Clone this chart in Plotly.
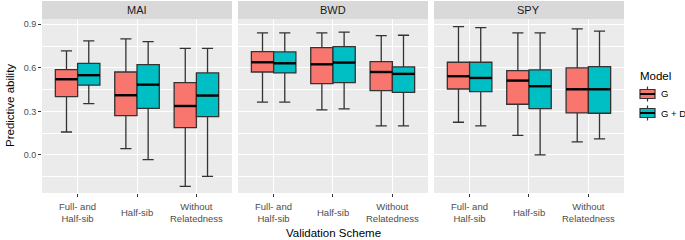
import plotly.graph_objects as go

traits = ["MAI", "BWD", "SPY"]
schemes = ["Full- and<br>Half-sib", "Half-sib", "Without<br>Relatedness"]
models = ["G", "G + D"]
colors = {"G": "#F8766D", "G + D": "#00BFC4"}

# per trait, per model: values for the three schemes
upper = {
    "MAI": {"G": [0.716, 0.799, 0.734], "G + D": [0.785, 0.780, 0.734]},
    "BWD": {"G": [0.840, 0.840, 0.822], "G + D": [0.840, 0.845, 0.824]},
    "SPY": {"G": [0.884, 0.840, 0.868], "G + D": [0.877, 0.840, 0.852]},
}
q3 = {
    "MAI": {"G": [0.588, 0.571, 0.498], "G + D": [0.631, 0.622, 0.565]},
    "BWD": {"G": [0.711, 0.739, 0.643], "G + D": [0.709, 0.746, 0.606]},
    "SPY": {"G": [0.638, 0.581, 0.599], "G + D": [0.638, 0.585, 0.608]},
}
median = {
    "MAI": {"G": [0.521, 0.411, 0.337], "G + D": [0.549, 0.484, 0.409]},
    "BWD": {"G": [0.638, 0.624, 0.571], "G + D": [0.631, 0.636, 0.558]},
    "SPY": {"G": [0.542, 0.512, 0.452], "G + D": [0.530, 0.473, 0.452]},
}
q1 = {
    "MAI": {"G": [0.402, 0.271, 0.188], "G + D": [0.480, 0.321, 0.264]},
    "BWD": {"G": [0.571, 0.491, 0.443], "G + D": [0.565, 0.498, 0.431]},
    "SPY": {"G": [0.454, 0.349, 0.289], "G + D": [0.436, 0.319, 0.287]},
}
lower = {
    "MAI": {"G": [0.158, 0.044, -0.216], "G + D": [0.353, -0.032, -0.147]},
    "BWD": {"G": [0.363, 0.310, 0.200], "G + D": [0.363, 0.317, 0.200]},
    "SPY": {"G": [0.225, 0.135, 0.090], "G + D": [0.200, 0.000, 0.110]},
}

BW = 0.375
offsets = {"G": -0.1875, "G + D": 0.1875}
FONT = "Liberation Sans, Arial, sans-serif"

W, H = 685, 240
ML, MR, MT, MB = 42, 61, 0, 47
PW, PH = W - ML - MR, H - MT - MB


def px(x):
    return (x - ML) / PW


def py(y):
    return (H - MB - y) / PH


fig = go.Figure()
domains = [[0, 0.3265], [0.3368, 0.6632], [0.6735, 1.0]]
ytop = 0.9016
stop = py(1)

for i, t in enumerate(traits):
    xa = "x" if i == 0 else f"x{i+1}"
    ya = "y" if i == 0 else f"y{i+1}"
    for m in models:
        pos = [k + 1 + offsets[m] for k in range(3)]
        fig.add_trace(go.Box(
            x=pos, q1=q1[t][m], median=median[t][m], q3=q3[t][m],
            lowerfence=lower[t][m], upperfence=upper[t][m],
            width=BW, whiskerwidth=0.5, boxpoints=False,
            fillcolor=colors[m], line=dict(color="#333333", width=1.3),
            name=m, showlegend=False,
            xaxis=xa, yaxis=ya, hoverinfo="skip",
        ))
        for k in range(3):
            fig.add_trace(go.Scatter(
                x=[pos[k] - BW / 2, pos[k] + BW / 2],
                y=[median[t][m][k], median[t][m][k]],
                mode="lines", line=dict(color="#000000", width=2.4),
                showlegend=False, hoverinfo="skip", xaxis=xa, yaxis=ya,
            ))

annotations = []
shapes = []
for i, t in enumerate(traits):
    sfx = "" if i == 0 else str(i + 1)
    fig.update_layout(**{
        f"xaxis{sfx}": dict(
            domain=domains[i], range=[0.4, 3.6], anchor=f"y{sfx}",
            tickvals=[1, 2, 3], ticktext=["", "", ""],
            showgrid=True, gridcolor="white", gridwidth=1.2,
            zeroline=False, ticks="outside", ticklen=3, tickcolor="#333333",
            showline=False, fixedrange=True,
        ),
        f"yaxis{sfx}": dict(
            domain=[0, ytop], range=[-0.262, 0.936], anchor=f"x{sfx}",
            tickvals=[0.0, 0.3, 0.6, 0.9],
            ticktext=["0.0", "0.3", "0.6", "0.9"],
            showticklabels=(i == 0),
            ticks="outside" if i == 0 else "", ticklen=3, tickcolor="#333333",
            showgrid=True, gridcolor="white", gridwidth=1.2, zeroline=False,
            minor=dict(tickvals=[-0.15, 0.15, 0.45, 0.75], showgrid=True,
                       gridcolor="white", gridwidth=0.6, ticks=""),
            tickfont=dict(size=9, color="#4D4D4D", family=FONT),
            fixedrange=True,
        ),
    })
    shapes.append(dict(type="rect", xref="paper", yref="paper",
                       x0=domains[i][0], x1=domains[i][1], y0=0, y1=ytop,
                       fillcolor="#EBEBEB", line=dict(width=0), layer="below"))
    shapes.append(dict(type="rect", xref="paper", yref="paper",
                       x0=domains[i][0], x1=domains[i][1], y0=ytop, y1=stop,
                       fillcolor="#D9D9D9", line=dict(width=0), layer="below"))
    annotations.append(dict(text=t, xref="paper", yref="paper",
                            x=(domains[i][0] + domains[i][1]) / 2, y=(ytop + stop) / 2,
                            showarrow=False, xanchor="center", yanchor="middle",
                            font=dict(size=11, color="#1A1A1A", family=FONT)))
    for k, s in enumerate(schemes):
        annotations.append(dict(text=s, xref=f"x{sfx}", yref="paper",
                                x=k + 1, y=0, yshift=-19, showarrow=False,
                                xanchor="center", yanchor="middle", align="center",
                                font=dict(size=9.5, color="#4D4D4D", family=FONT)))

annotations.append(dict(text="Validation Scheme", xref="paper", yref="paper",
                        x=0.5, y=0, yshift=-40, showarrow=False,
                        xanchor="center", yanchor="middle",
                        font=dict(size=11.5, color="#000000", family=FONT)))
annotations.append(dict(text="Predictive ability", xref="paper", yref="paper",
                        x=0, xshift=-32, y=ytop / 2, showarrow=False, textangle=-90,
                        xanchor="center", yanchor="middle",
                        font=dict(size=11.5, color="#000000", family=FONT)))

# legend (drawn manually, ggplot style)
annotations.append(dict(text="Model", xref="paper", yref="paper",
                        x=px(638), y=py(76), showarrow=False,
                        xanchor="left", yanchor="middle",
                        font=dict(size=11.5, color="#000000", family=FONT)))
for m, yc in zip(models, [94, 113]):
    xc = 647.5
    shapes.append(dict(type="line", xref="paper", yref="paper",
                       x0=px(xc), x1=px(xc), y0=py(yc - 7.5), y1=py(yc + 7.5),
                       line=dict(color="#333333", width=1.2)))
    shapes.append(dict(type="rect", xref="paper", yref="paper",
                       x0=px(xc - 7.5), x1=px(xc + 7.5), y0=py(yc - 4.5), y1=py(yc + 4.5),
                       fillcolor=colors[m], line=dict(color="#333333", width=1.2)))
    shapes.append(dict(type="line", xref="paper", yref="paper",
                       x0=px(xc - 7.5), x1=px(xc + 7.5), y0=py(yc), y1=py(yc),
                       line=dict(color="#000000", width=2)))
    annotations.append(dict(text=m, xref="paper", yref="paper",
                            x=px(659), y=py(yc), showarrow=False,
                            xanchor="left", yanchor="middle",
                            font=dict(size=9.5, color="#000000", family=FONT)))

fig.update_layout(
    width=W, height=H,
    margin=dict(l=ML, r=MR, t=MT, b=MB),
    paper_bgcolor="white", plot_bgcolor="rgba(0,0,0,0)",
    shapes=shapes, annotations=annotations,
    showlegend=False,
    font=dict(family=FONT),
)

fig.write_html("out.html", config={"displayModeBar": False},
               post_script="document.body.style.margin='0';")
